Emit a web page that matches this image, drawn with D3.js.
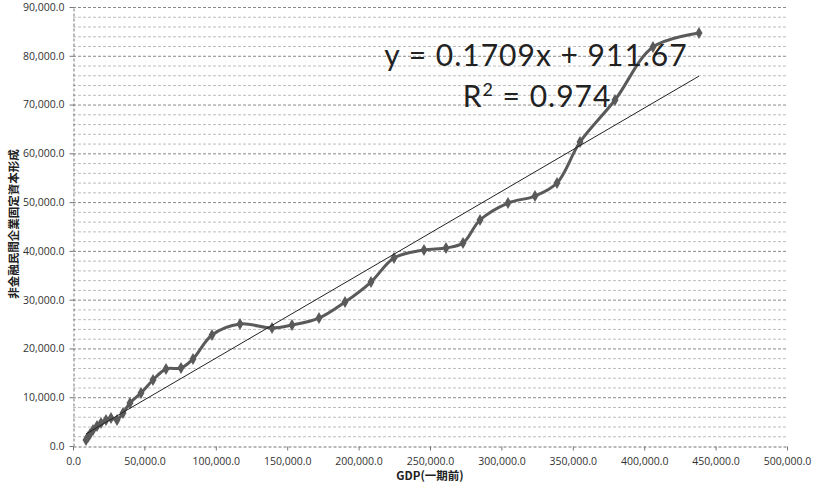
<!DOCTYPE html>
<html><head><meta charset="utf-8">
<script src="https://cdn.jsdelivr.net/npm/d3@7"></script>
<style>
body{margin:0;background:#fff;}
svg{display:block;}
</style></head>
<body>
<svg id="c" width="817" height="487"></svg>
<script>
// GDP (previous period), billions
const gdpPrev = [9104, 10504, 11905, 14006, 16807, 19608, 23109, 26611, 30812, 35014, 39916, 47619,
  56022, 65126, 75630, 84034, 97339, 116947, 139356, 153361, 172269, 190476, 208683, 224790,
  245798, 261204, 273109, 285014, 304622, 323529, 338936, 355042, 379552, 406162, 438375];
// Non-financial private fixed capital formation
const capForm = [1230, 1845, 2460, 3280, 4100, 4715, 5330, 5740, 5330, 6765, 8815, 10865,
  13530, 15785, 15990, 17835, 22755, 25010, 24190, 24805, 26240, 29520, 33620, 38540,
  40180, 40590, 41615, 46330, 49815, 51250, 53916, 62320, 70930, 81796, 84666];
const xTicks = [0, 50000, 100000, 150000, 200000, 250000, 300000, 350000, 400000, 450000, 500000];
const yTicks = [0, 10000, 20000, 30000, 40000, 50000, 60000, 70000, 80000, 90000];
const trendSlope = 0.1709, trendIntercept = 911.67;
const eqText = "y = 0.1709x + 911.67";
const r2Text = "0.974";
const xTitle = "GDP(一期前)";
const yTitle = "非金融民間企業固定資本形成";

const svg = d3.select("#c");
const W = 817, H = 487;
const m = {l:73, r:30, t:7, b:41};
const x = d3.scaleLinear().domain([0,500000]).range([m.l, W-m.r]);
const y = d3.scaleLinear().domain([0,90000]).range([H-m.b, m.t]);
const fmt = d3.format(",.1f");

// minor gridlines
const minor = d3.range(2000, 90001, 2000).filter(v => v % 10000 !== 0);
svg.append("g").selectAll("line").data(minor).join("line")
  .attr("x1", m.l).attr("x2", W-m.r)
  .attr("y1", d=>y(d)+0.5).attr("y2", d=>y(d)+0.5)
  .attr("stroke","#bdbdbd").attr("stroke-width",1).attr("stroke-dasharray","3,2");
// major gridlines
svg.append("g").selectAll("line").data(yTicks.filter(v=>v>0)).join("line")
  .attr("x1", m.l).attr("x2", W-m.r)
  .attr("y1", d=>y(d)+0.5).attr("y2", d=>y(d)+0.5)
  .attr("stroke","#8a8a8a").attr("stroke-width",1).attr("stroke-dasharray","3,2");

// axes
const xAxis = svg.append("g").attr("transform",`translate(0,${y(0)+0.5})`)
  .call(d3.axisBottom(x).tickValues(xTicks).tickFormat(fmt).tickSize(4).tickSizeOuter(0));
const yAxis = svg.append("g").attr("transform",`translate(${m.l+0.5},0)`)
  .call(d3.axisLeft(y).tickValues(yTicks).tickFormat(fmt).tickSize(4).tickSizeOuter(0));
[xAxis,yAxis].forEach(a=>{
  a.select(".domain").attr("stroke","#777").attr("stroke-dasharray","3,2");
  a.selectAll(".tick line").attr("stroke","#777");
  a.selectAll("text").attr("fill","#333").attr("font-family","'Open Sans',sans-serif").attr("font-size","10.5px");
});
xAxis.selectAll("text").attr("dy","1.1em");
yAxis.selectAll("text").attr("dx","-2");

// series line
const pts = gdpPrev.map((g,i)=>[g, capForm[i]]);
svg.append("path").datum(pts)
  .attr("d", d3.line().x(d=>x(d[0])).y(d=>y(d[1])).curve(d3.curveCatmullRom.alpha(0.5)))
  .attr("fill","none").attr("stroke","#5a5a5a").attr("stroke-width",3).attr("stroke-linejoin","round");
svg.append("g").selectAll("path").data(pts).join("path")
  .attr("transform", d=>`translate(${x(d[0])},${y(d[1])})`)
  .attr("d", d3.symbol(d3.symbolDiamond, 42))
  .attr("fill","#5a5a5a");

// trend line
const xMin = d3.min(gdpPrev), xMax = d3.max(gdpPrev);
svg.append("line")
  .attr("x1", x(xMin)).attr("y1", y(trendSlope*xMin+trendIntercept))
  .attr("x2", x(xMax)).attr("y2", y(trendSlope*xMax+trendIntercept))
  .attr("stroke","#222").attr("stroke-width",1);

// equation
svg.append("text").attr("x",536).attr("y",66).attr("text-anchor","middle")
  .attr("font-family","Lato, 'Open Sans', sans-serif").attr("font-size","30px").attr("fill","#222")
  .attr("letter-spacing","1px")
  .text(eqText);
const r2 = svg.append("text").attr("x",537).attr("y",107).attr("text-anchor","middle")
  .attr("font-family","Lato, 'Open Sans', sans-serif").attr("font-size","30px").attr("fill","#222")
  .attr("letter-spacing","1px");
r2.append("tspan").text("R");
r2.append("tspan").attr("font-size","18px").attr("dy","-11").text("2");
r2.append("tspan").attr("dy","11").text(" = " + r2Text);

// axis titles
svg.append("text").attr("x", 430).attr("y", 480).attr("text-anchor","middle")
  .attr("font-family","'Noto Sans CJK JP', sans-serif").attr("font-weight","bold")
  .attr("font-size","11.5px").attr("fill","#222").text(xTitle);
svg.append("text").attr("transform","translate(18,224) rotate(-90)").attr("text-anchor","middle")
  .attr("font-family","'Noto Sans CJK JP', sans-serif").attr("font-weight","bold")
  .attr("font-size","11.5px").attr("fill","#222").text(yTitle);
</script>
</body></html>
